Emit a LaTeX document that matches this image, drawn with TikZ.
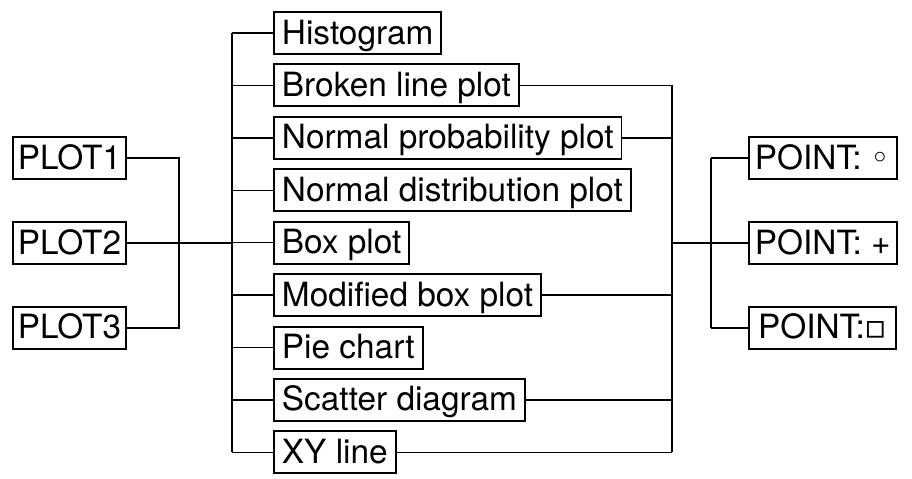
\documentclass[tikz,border=0pt]{standalone}
\usepackage{fontspec}
\setmainfont{TeX Gyre Heros}
\newfontfamily\shapesym{DejaVu Sans}
\usepackage{tikz}
\usetikzlibrary{positioning}

\begin{document}
\begin{tikzpicture}[
  x=0.02cm, y=-0.02cm,
  box/.style={rectangle, draw, line width=1.1pt, inner xsep=0.16cm, inner ysep=0pt, text height=0.64cm, text depth=0.2cm, font=\fontsize{19}{21}\selectfont},
  plotbox/.style={box, inner xsep=0.1cm},
  pointbox/.style={box, minimum width=2.94cm, inner xsep=0.12cm},
  link/.style={line width=0.85pt}
]
\useasboundingbox (0,0) rectangle (912,478);
% plot number
\node[plotbox, anchor=west] (p2) at (12,243) {PLOT2};
\node[plotbox, above=0.82cm of p2] (p1) {PLOT1};
\node[plotbox, below=0.82cm of p2] (p3) {PLOT3};
% graph types
\node[box, anchor=west] (h1) at (273,33) {Histogram};
\node[box, below=0.17cm of h1.south west, anchor=north west] (h2) {Broken line plot};
\node[box, below=0.17cm of h2.south west, anchor=north west] (h3) {Normal probability plot};
\node[box, below=0.17cm of h3.south west, anchor=north west] (h4) {Normal distribution plot};
\node[box, below=0.17cm of h4.south west, anchor=north west] (h5) {Box plot};
\node[box, below=0.17cm of h5.south west, anchor=north west] (h6) {Modified box plot};
\node[box, below=0.17cm of h6.south west, anchor=north west] (h7) {Pie chart};
\node[box, below=0.17cm of h7.south west, anchor=north west] (h8) {Scatter diagram};
\node[box, below=0.17cm of h8.south west, anchor=north west] (h9) {XY line};
% point marks
\node[pointbox, anchor=west] (q2) at (748,243) {POINT: +};
\node[pointbox, above=0.82cm of q2] (q1) {POINT: {\shapesym ◦}};
\node[pointbox, below=0.82cm of q2] (q3) {POINT:{\shapesym ▫}};
% junctions
\coordinate (lj) at (179,243);
\coordinate (mj) at (232,243);
\coordinate (rj) at (672,243);
\coordinate (pj) at (711,243);
% left side
\draw[link] (p1.east) -- (p1.east -| lj) |- (p3.east);
\draw[link] (p2.east) -- (mj);
\draw[link] (mj |- h1.west) -- (mj |- h9.west);
\foreach \i in {1,...,9}
  \draw[link] (mj |- h\i.west) -- (h\i.west);
% right side
\foreach \i in {2,3,6,8,9}
  \draw[link] (h\i.east) -- (h\i.east -| rj);
\draw[link] (rj |- h2.east) -- (rj |- h9.east);
\draw[link] (rj) -- (pj);
\draw[link] (pj |- q1.west) -- (pj |- q3.west);
\foreach \i in {1,2,3}
  \draw[link] (pj |- q\i.west) -- (q\i.west);
\end{tikzpicture}
\end{document}
